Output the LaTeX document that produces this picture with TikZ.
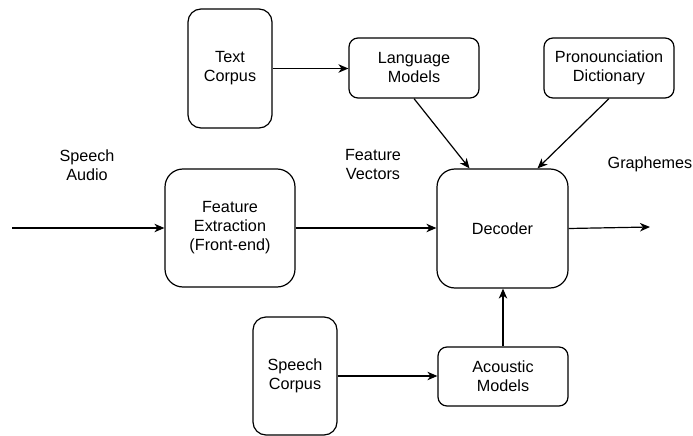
\documentclass[tikz,border=0pt]{standalone}
\usepackage{fontspec}
\setmainfont{Liberation Sans}
\usetikzlibrary{arrows.meta}
\begin{document}
\begin{tikzpicture}[x=1pt,y=-1pt,
  box/.style={draw=black, line width=1.2pt, align=center, inner sep=0pt,
    font=\fontsize{16.2}{19}\selectfont},
  lbl/.style={align=center, inner sep=0pt, font=\fontsize{16.2}{19}\selectfont},
  flow/.style={draw=black, line width=1.2pt,
    -{Stealth[length=10pt,width=8.5pt,inset=3pt]}}]
\useasboundingbox (0,0) rectangle (693,436);

% processing blocks
\node[box, rounded corners=13pt, minimum width=84pt, minimum height=119pt] (tc) at (230,68.5) {Text\\Corpus};
\node[box, rounded corners=9pt, minimum width=130pt, minimum height=60pt] (lm) at (414,68) {Language\\Models};
\node[box, rounded corners=9pt, minimum width=130pt, minimum height=60pt] (pd) at (609,68) {Pronounciation\\Dictionary};
\node[box, rounded corners=18pt, minimum width=130pt, minimum height=118pt] (fe) at (230,228) {Feature\\Extraction\\(Front-end)};
\node[box, rounded corners=18pt, minimum width=131pt, minimum height=119pt] (dec) at (502.5,228.5) {Decoder};
\node[box, rounded corners=13pt, minimum width=84pt, minimum height=118pt] (sc) at (295,376) {Speech\\Corpus};
\node[box, rounded corners=9pt, minimum width=130pt, minimum height=59pt] (am) at (503,376.5) {Acoustic\\Models};

% signal labels
\node[lbl] (sa) at (87,165) {Speech\\Audio};
\node[lbl] (fv) at (373,165) {Feature\\Vectors};
\node[lbl] (gr) at (650,164) {Graphemes};

\coordinate (in) at (12,228);
\coordinate (out) at (650,227);

% connections
\draw[flow] (in) -- (fe.west);
\draw[flow] (fe.east) -- (dec.west |- fe.east);
\draw[flow] (tc.east) -- (lm.west |- tc.east);
\draw[flow] (lm.south) -- ([xshift=-33pt]dec.north);
\draw[flow] (pd.south) -- ([xshift=35pt]dec.north);
\draw[flow] (sc.east) -- (am.west |- sc.east);
\draw[flow] (am.north) -- (am.north |- dec.south);
\draw[flow] (dec.east) -- (out);
\end{tikzpicture}
\end{document}
